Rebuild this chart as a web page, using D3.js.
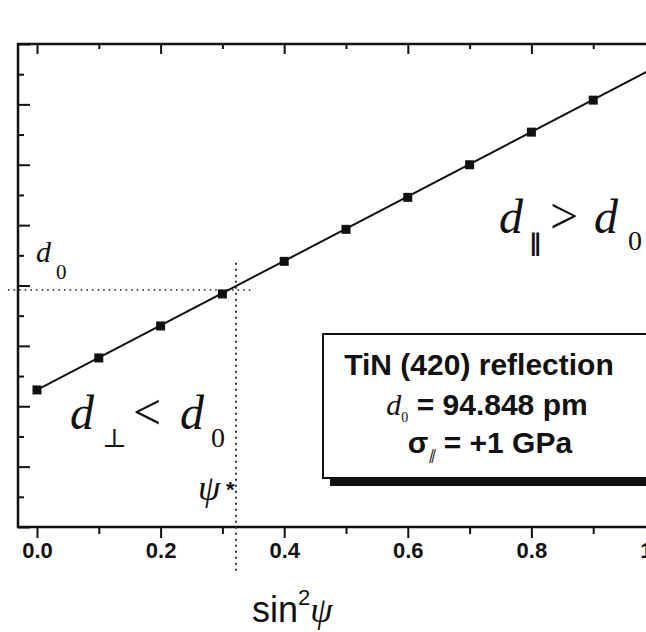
<!DOCTYPE html>
<html>
<head>
<meta charset="utf-8">
<script src="https://cdn.jsdelivr.net/npm/d3@7"></script>
<style>
  body { margin: 0; background: #fff; }
  svg { display: block; }
</style>
</head>
<body>
<div id="chart"></div>
<script>
"use strict";

// measured points: lattice spacing (arb. units) vs sin^2 psi
const sin2psi = [0.0, 0.1, 0.2, 0.3, 0.4, 0.5, 0.6, 0.7, 0.8, 0.9];
const dSpacing = [4.54, 5.60, 6.66, 7.72, 8.80, 9.86, 10.92, 12.00, 13.08, 14.14];
// straight line fit through the points
const fitX = [0.0, 1.0];
const fitY = [4.54, 15.22];
// strain-free lattice spacing and the psi* direction
const d0Value = 7.85;
const psiStar = 0.322;

const xMajor = [0.0, 0.2, 0.4, 0.6, 0.8, 1.0];
const xMinor = [0.1, 0.3, 0.5, 0.7, 0.9];
const xTickLabels = ["0.0", "0.2", "0.4", "0.6", "0.8", "1.0"];
const yMajor = [0, 2, 4, 6, 8, 10, 12, 14, 16];
const yMinor = [1, 3, 5, 7, 9, 11, 13, 15];

const infoLines = ["TiN (420) reflection", "= 94.848 pm", "= +1 GPa"];

// set the dimensions of the graph
let W = 646, H = 632;
let margin = {left: 18, top: 44, bottom: 527};

let svg = d3.select("#chart")
    .append("svg")
    .attr("width", W)
    .attr("height", H);

svg.append("rect").attr("width", W).attr("height", H).attr("fill", "#fff");

let x = d3.scaleLinear().domain([0, 1]).range([37, 655]);
let y = d3.scaleLinear().domain([0, 16]).range([margin.bottom, margin.top]);

const SANS = "'Liberation Sans', Arial, sans-serif";
const SERIF = "'Liberation Serif', 'Times New Roman', serif";

// ticks: top and bottom point down, left points right (inside)
function xAxis(g, vals, size, labels) {
    g.call(d3.axisBottom(x).tickValues(vals).tickSize(size).tickSizeOuter(0)
        .tickFormat((d, i) => labels ? labels[i] : ""));
    g.select(".domain").remove();
    g.selectAll("line").attr("stroke", "#111").attr("stroke-width", 2);
}
svg.append("g").attr("transform", "translate(0," + margin.top + ")").call(xAxis, xMajor, 10);
svg.append("g").attr("transform", "translate(0," + margin.top + ")").call(xAxis, xMinor, 5);
let bAx = svg.append("g").attr("transform", "translate(0," + margin.bottom + ")").call(xAxis, xMajor, 11, xTickLabels);
svg.append("g").attr("transform", "translate(0," + margin.bottom + ")").call(xAxis, xMinor, 7);
bAx.selectAll("text")
    .attr("y", 15)
    .attr("dy", "0.71em")
    .style("font-family", SANS)
    .style("font-weight", "bold")
    .style("font-size", "22px")
    .attr("fill", "#111");

function yAxis(g, vals, size) {
    g.call(d3.axisRight(y).tickValues(vals).tickSize(size).tickSizeOuter(0).tickFormat(""));
    g.select(".domain").remove();
    g.selectAll("line").attr("stroke", "#111").attr("stroke-width", 2);
}
svg.append("g").attr("transform", "translate(" + margin.left + ",0)").call(yAxis, yMajor, 12);
svg.append("g").attr("transform", "translate(" + margin.left + ",0)").call(yAxis, yMinor, 6);

// frame (right side is cut off by the picture edge)
svg.append("path")
    .attr("d", "M" + (W + 10) + "," + margin.top + "H" + margin.left + "V" + margin.bottom + "H" + (W + 10))
    .attr("fill", "none")
    .attr("stroke", "#111")
    .attr("stroke-width", 2.5);

// dotted guide lines for d0 and psi*
svg.append("line")
    .attr("x1", x(-0.047)).attr("x2", x(0.35))
    .attr("y1", y(d0Value)).attr("y2", y(d0Value))
    .attr("stroke", "#222").attr("stroke-width", 1.6)
    .attr("stroke-dasharray", "1.6,4");
svg.append("line")
    .attr("x1", x(psiStar)).attr("x2", x(psiStar))
    .attr("y1", y(8.75)).attr("y2", y(-1.5))
    .attr("stroke", "#222").attr("stroke-width", 1.8)
    .attr("stroke-dasharray", "2,4");

// fit line and points
let line = d3.line().x(d => x(d[0])).y(d => y(d[1]));
svg.append("path")
    .datum(d3.zip(fitX, fitY))
    .attr("d", line)
    .attr("fill", "none")
    .attr("stroke", "#111")
    .attr("stroke-width", 2);

svg.selectAll(".pt")
    .data(d3.zip(sin2psi, dSpacing))
    .enter()
    .append("rect")
    .attr("class", "pt")
    .attr("x", d => x(d[0]) - 4.5)
    .attr("y", d => y(d[1]) - 4.5)
    .attr("width", 9)
    .attr("height", 9)
    .attr("fill", "#111");

// info box with shadow
svg.append("rect")
    .attr("x", 330).attr("y", 478).attr("width", 330).attr("height", 8)
    .attr("fill", "#111");
svg.append("rect")
    .attr("x", 323).attr("y", 334).attr("width", 340).attr("height", 144)
    .attr("fill", "#fff").attr("stroke", "#111").attr("stroke-width", 2);

let info = svg.append("g")
    .style("font-family", SANS)
    .style("font-weight", "bold")
    .style("font-size", "30px")
    .attr("fill", "#111")
    .attr("text-anchor", "middle");
info.append("text").attr("x", 479).attr("y", 375).text(infoLines[0]);
let l2 = info.append("text").attr("x", 487).attr("y", 415);
l2.append("tspan").style("font-family", SERIF).style("font-style", "italic")
    .style("font-weight", "normal").text("d");
l2.append("tspan").attr("dy", 7).style("font-size", "14px").style("font-family", SERIF)
    .style("font-weight", "normal").text("0");
l2.append("tspan").attr("dy", -7).text(" " + infoLines[1]);
let l3 = info.append("text").attr("x", 490).attr("y", 453);
l3.append("tspan").text("σ");
l3.append("tspan").attr("dy", 7).style("font-size", "14px").style("font-family", SERIF)
    .style("font-style", "italic").style("font-weight", "normal").text("∥");
l3.append("tspan").attr("dy", -7).text(" " + infoLines[2]);

// annotations
function piece(px, py, str, size, opts) {
    opts = opts || {};
    svg.append("text")
        .attr("x", px).attr("y", py)
        .style("font-family", opts.family || SERIF)
        .style("font-style", opts.italic ? "italic" : "normal")
        .style("font-weight", opts.bold ? "bold" : "normal")
        .style("font-size", size + "px")
        .attr("fill", "#111")
        .text(str);
}
piece(36, 262, "d", 30, {italic: true});
piece(56, 279, "0", 21);

piece(70, 429, "d", 48, {italic: true});
piece(102, 447, "⊥", 26, {family: "'DejaVu Serif', serif"});
piece(133, 429, "<", 50);
piece(180, 429, "d", 48, {italic: true});
piece(211, 447, "0", 28);

piece(499, 233, "d", 48, {italic: true});
piece(529, 251, "∥", 24, {family: "'DejaVu Sans', sans-serif", bold: true});
piece(550, 233, ">", 50);
piece(594, 233, "d", 48, {italic: true});
piece(628, 250, "0", 28);

piece(198, 500, "ψ", 36, {italic: true});
piece(226, 497, "*", 22, {family: SANS, bold: true});

// x axis title
let xt = svg.append("text")
    .attr("x", 252).attr("y", 622)
    .style("font-family", SANS)
    .style("font-size", "36px")
    .attr("fill", "#111");
xt.append("tspan").text("sin");
xt.append("tspan").attr("dy", -17).style("font-size", "22px").text("2");
xt.append("tspan").attr("dy", 17).style("font-family", SERIF).style("font-style", "italic").text("ψ");
</script>
</body>
</html>
